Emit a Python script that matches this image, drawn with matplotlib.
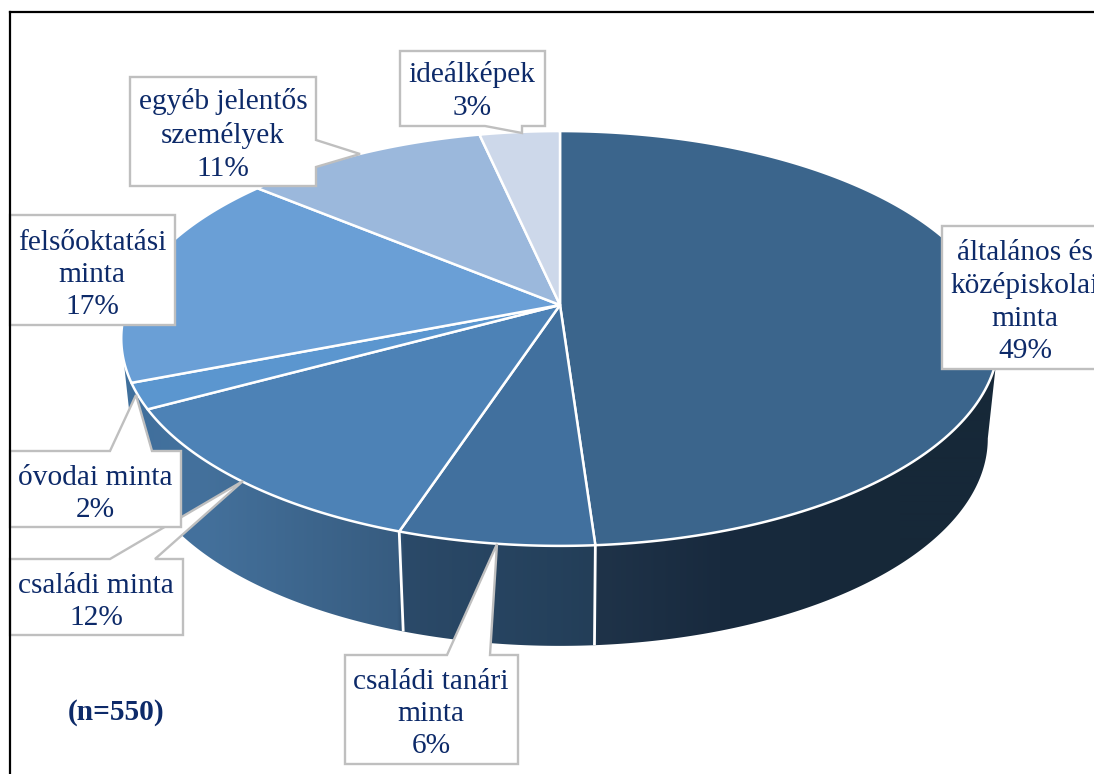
import numpy as np
import matplotlib
matplotlib.use("Agg")
import matplotlib.pyplot as plt
from matplotlib.patches import Polygon
from matplotlib.colors import to_rgb

# ---- data ----
categories = ["általános és\nközépiskolai\nminta", "családi tanári\nminta", "családi minta",
              "óvodai minta", "felsőoktatási\nminta", "egyéb jelentős\nszemélyek", "ideálképek"]
counts = [269, 34, 66, 11, 93, 58, 19]   # n=550
note = "(n=550)"

# ---- styles ----
top_colors = ["#3b658c", "#41709e", "#4d82b6", "#5b96cf", "#6a9fd6", "#9bb8dc", "#cdd8ea"]
wall_stops = [(122, "#3f6f9c"), (200, "#44719c"), (397, "#375c80"), (404, "#2b4a69"),
              (594, "#233e58"), (598, "#1f3349"), (720, "#182a3e"), (900, "#162838"), (998, "#172838")]
TEXT = "#0d2a69"
EDGE = "#bfbfbf"

plt.rcParams["font.family"] = ["Liberation Serif", "DejaVu Serif"]
fig = plt.figure(figsize=(10.94, 7.74), dpi=100)
ax = fig.add_axes([0, 0, 1, 1])
ax.axis("off")

# perspective projection of the pie disc
CX, CY, K = 560.0, 305.0, 0.1614
A, B = 433.0, 202.0


def project(frac, dy=0.0, sx=1.0):
    th = 2 * np.pi * np.asarray(frac)
    u, v = np.sin(th), np.cos(th)
    d = 1 + K * v
    return CX + sx * A * u / d, CY - B * v / d + dy


DEPTH, SHRINK = 100.0, 0.975
total = sum(counts)
edges = np.cumsum([0] + counts) / total

# side wall: horizontal gradient clipped to the wall outline
side = np.arccos(-K) / (2 * np.pi)
grid = np.linspace(side, 1 - side, 500)
ux, uy = project(grid)
lx, ly = project(grid[::-1], dy=DEPTH, sx=SHRINK)
wall = Polygon(np.column_stack([np.r_[ux, lx], np.r_[uy, ly]]), closed=True,
               transform=ax.transData, facecolor="none", edgecolor="none")
ax.add_patch(wall)
gx = np.arange(100, 1020)
grad = np.stack([np.interp(gx, [s[0] for s in wall_stops],
                           [to_rgb(s[1])[i] for s in wall_stops]) for i in range(3)], axis=-1)[None, :, :]
im = ax.imshow(grad, extent=(100, 1020, 700, 300), aspect="auto", interpolation="bilinear", zorder=1)
im.set_clip_path(wall)

ax.set_xlim(0, 1094)
ax.set_ylim(774, 0)

# wall separators
for f in edges[1:3]:
    x0, y0 = project(f)
    x1, y1 = project(f, dy=DEPTH, sx=SHRINK)
    ax.plot([x0, x1], [y0, y1], color="white", lw=2.0, zorder=2, solid_capstyle="butt")

# top faces
for i, col in enumerate(top_colors):
    fr = np.linspace(edges[i], edges[i + 1], 200)
    px, py = project(fr)
    pts = [(CX, CY)] + list(zip(px, py))
    ax.add_patch(Polygon(pts, closed=True, facecolor=col, edgecolor="white", linewidth=1.8,
                         joinstyle="round", zorder=3))

# frame
ax.plot([10, 10], [774, 12], color="black", lw=1.6, zorder=8, solid_capstyle="projecting")
ax.plot([10, 1094], [12, 12], color="black", lw=1.6, zorder=8, solid_capstyle="projecting")

# callouts: outline polygon + centred text
callouts = {
    0: ([(942, 226), (1100, 226), (1100, 369), (942, 369)], (1025, 302)),
    1: ([(345, 655), (447, 655), (497, 544), (490, 655), (518, 655), (518, 764), (345, 764)], (431, 714)),
    2: ([(10, 559), (110, 559), (243, 481), (155, 559), (183, 559), (183, 635), (10, 635)], (96, 602)),
    3: ([(10, 451), (110, 451), (136, 395), (152, 451), (181, 451), (181, 527), (10, 527)], (95, 494)),
    4: ([(10, 215), (175, 215), (175, 325), (10, 325)], (92, 275)),
    5: ([(130, 77), (316, 77), (316, 140), (360, 154), (316, 167), (316, 186), (130, 186)], (223, 135)),
    6: ([(400, 51), (545, 51), (545, 126), (522, 126), (522, 133), (485, 126), (400, 126)], (472, 91)),
}
for i, (poly, (tx, ty)) in callouts.items():
    ax.add_patch(Polygon(poly, closed=True, facecolor="white", edgecolor=EDGE, linewidth=1.7,
                         joinstyle="miter", zorder=5))
    pct = round(100 * counts[i] / total)
    ax.text(tx, ty, f"{categories[i]}\n{pct}%", ha="center", va="center", color=TEXT,
            fontsize=21.2, linespacing=1.32, zorder=6)

ax.text(116, 713, note, ha="center", va="center", color=TEXT, fontsize=21.2, fontweight="bold", zorder=6)

fig.savefig("out.png", dpi=100)
